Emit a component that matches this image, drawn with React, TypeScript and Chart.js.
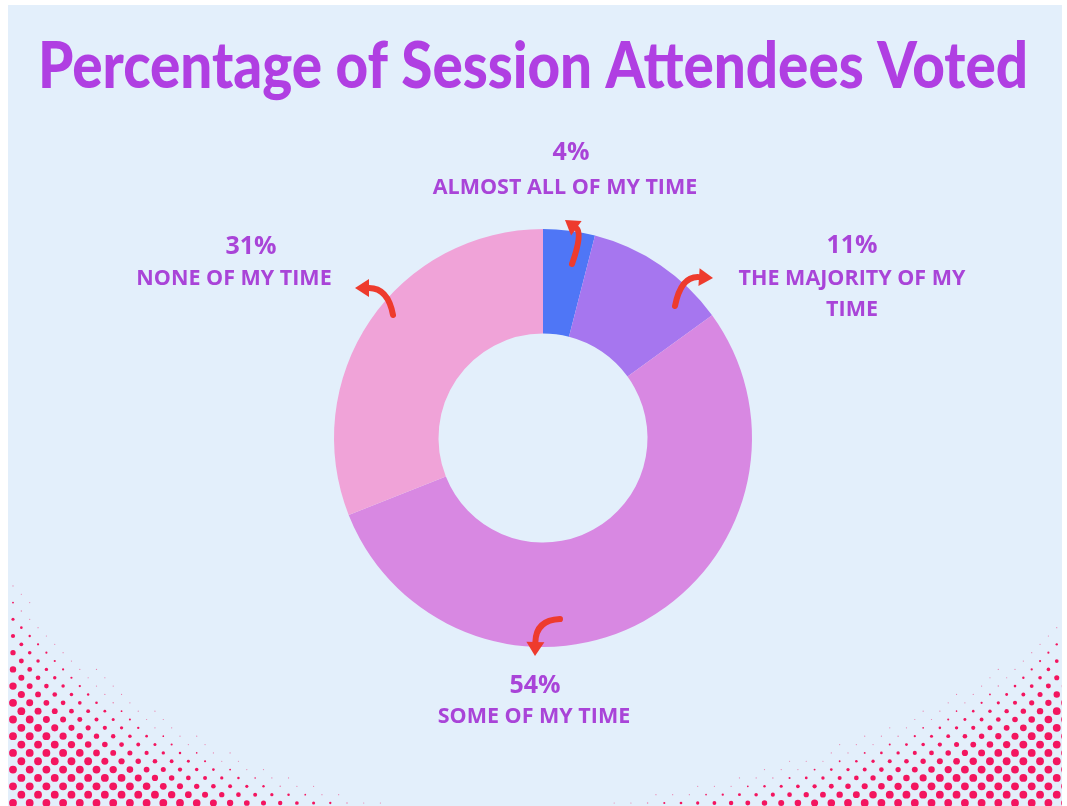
import React, { useEffect, useRef } from "react";
import { Chart, registerables } from "chart.js";
Chart.register(...registerables);

const title = "Percentage of Session Attendees Voted";
const categories = ["ALMOST ALL OF MY TIME", "THE MAJORITY OF MY TIME", "SOME OF MY TIME", "NONE OF MY TIME"];
const labelLines = [["ALMOST ALL OF MY TIME"], ["THE MAJORITY OF MY", "TIME"], ["SOME OF MY TIME"], ["NONE OF MY TIME"]];
const values = [4, 11, 54, 31];
const colors = ["#4f76f6", "#a676ef", "#d888e2", "#f0a3d8"];

// text placement relative to the doughnut centre (style, not data)
const labelLayout = [
  { pct: [28, -285], text: [22, -250] },
  { pct: [309, -192], text: [309, -159] },
  { pct: [-8, 248], text: [-9, 279] },
  { pct: [-292, -191], text: [-309, -159] },
];
// decorative arrows: base, control, tip (offsets from centre)
const arrows = [
  { b: [29, -174], c: [40, -205], t: [22, -218] },
  { b: [132, -132], c: [138, -162], t: [170, -160] },
  { b: [-150, -123], c: [-155, -150], t: [-188, -150] },
  { b: [17, 181], c: [-7, 182], t: [-8, 218] },
];

const BG = "#e3effb";
const TEXT = "#a944d8";
const RED = "#ee3b2d";
const DOT = "#f3155f";

function drawHalftone(ctx: CanvasRenderingContext2D, W: number, H: number) {
  ctx.save();
  ctx.fillStyle = DOT;
  const dy = 8.35, dx = 16.7;
  for (let row = 0; row * dy < 260; row++) {
    const y = H - 3 - row * dy;
    const off = row % 2 ? dx / 2 : 0;
    for (let x = 13 + off; x < W; x += dx) {
      const ax = Math.max(0, (x - 8) / 390), ay = Math.max(0, (H - y) / 240);
      const dl = Math.pow(ax, 0.7) + Math.pow(ay, 0.7);
      const bx = Math.max(0, (1062 - x) / 480), by = Math.max(0, (H - y) / 195);
      const dr = Math.pow(bx, 0.7) + Math.pow(by, 0.7);
      const d = Math.min(dl, dr);
      if (d < 1.03) {
        const k = Math.min(1, Math.max(0, (1 - d) / 0.36));
        const r = Math.max(0.6, 3.9 * Math.pow(k, 0.8));
        ctx.globalAlpha = d > 0.95 ? 0.5 : 1;
        ctx.beginPath();
        ctx.arc(x, y, r, 0, Math.PI * 2);
        ctx.fill();
      }
    }
  }
  ctx.restore();
}

function drawArrow(ctx: CanvasRenderingContext2D, cx: number, cy: number, a: any) {
  const bx = cx + a.b[0], by = cy + a.b[1];
  const kx = cx + a.c[0], ky = cy + a.c[1];
  const tx = cx + a.t[0], ty = cy + a.t[1];
  const ang = Math.atan2(ty - ky, tx - kx);
  const hl = 14, hw = 9;
  const hx = tx - Math.cos(ang) * hl, hy = ty - Math.sin(ang) * hl;
  ctx.save();
  ctx.strokeStyle = RED;
  ctx.fillStyle = RED;
  ctx.lineWidth = 6;
  ctx.lineCap = "round";
  ctx.beginPath();
  ctx.moveTo(bx, by);
  ctx.quadraticCurveTo(kx, ky, hx, hy);
  ctx.stroke();
  ctx.beginPath();
  ctx.moveTo(tx, ty);
  ctx.lineTo(hx + Math.cos(ang + Math.PI / 2) * hw, hy + Math.sin(ang + Math.PI / 2) * hw);
  ctx.lineTo(hx - Math.cos(ang + Math.PI / 2) * hw, hy - Math.sin(ang + Math.PI / 2) * hw);
  ctx.closePath();
  ctx.fill();
  ctx.restore();
}

const decorPlugin = {
  id: "decor",
  beforeDraw(chart: any) {
    const ctx = chart.ctx as CanvasRenderingContext2D;
    const W = chart.width, H = chart.height;
    ctx.save();
    ctx.fillStyle = "#ffffff";
    ctx.fillRect(0, 0, W, H);
    ctx.beginPath();
    ctx.rect(8, 5, 1054, H - 5);
    ctx.clip();
    ctx.fillStyle = BG;
    ctx.fillRect(8, 5, 1054, H - 5);
    drawHalftone(ctx, W, H);
    ctx.restore();
    ctx.save();
    ctx.fillStyle = "#b03fe2";
    ctx.font = "900 64px Lato";
    ctx.textBaseline = "alphabetic";
    ctx.textAlign = "center";
    const w = ctx.measureText(title).width;
    ctx.translate(533, 88);
    ctx.scale(990 / w, 1);
    ctx.fillText(title, 0, 0);
    ctx.restore();
  },
  afterDraw(chart: any) {
    const ctx = chart.ctx as CanvasRenderingContext2D;
    const arc = chart.getDatasetMeta(0).data[0];
    const cx = arc.x, cy = arc.y;
    const total = values.reduce((s, v) => s + v, 0);
    arrows.forEach((a) => drawArrow(ctx, cx, cy, a));
    ctx.save();
    ctx.fillStyle = TEXT;
    ctx.textAlign = "center";
    ctx.textBaseline = "middle";
    values.forEach((v, i) => {
      const L = labelLayout[i];
      ctx.font = "bold 25px 'Open Sans'";
      ctx.fillText(Math.round((v / total) * 100) + "%", cx + L.pct[0], cy + L.pct[1]);
      ctx.font = "bold 21.5px 'Open Sans'";
      labelLines[i].forEach((line, j) => {
        ctx.fillText(line, cx + L.text[0], cy + L.text[1] + j * 31);
      });
    });
    ctx.restore();
  },
};

export default function App() {
  const ref = useRef<HTMLCanvasElement>(null);
  useEffect(() => {
    document.body.style.margin = "0";
    const chart = new Chart(ref.current!, {
      type: "doughnut",
      data: {
        labels: categories,
        datasets: [{ data: values, backgroundColor: colors, borderWidth: 0, hoverOffset: 0 }],
      },
      options: {
        animation: false,
        responsive: false,
        cutout: "50%",
        layout: { padding: { left: 334, right: 315, top: 229, bottom: 159 } },
        plugins: { legend: { display: false }, tooltip: { enabled: false } },
      },
      plugins: [decorPlugin],
    });
    return () => chart.destroy();
  }, []);
  return (
    <div style={{ width: 1067, height: 806 }}>
      <canvas ref={ref} width={1067} height={806} style={{ display: "block" }} />
    </div>
  );
}
